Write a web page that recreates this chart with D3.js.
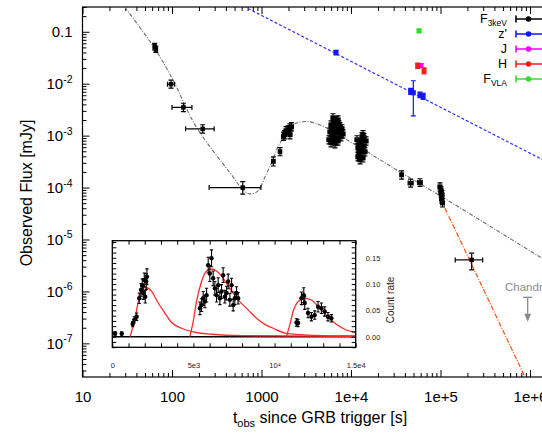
<!DOCTYPE html>
<html lang="en">
<head>
<meta charset="UTF-8">
<title>GRB light curve</title>
<script src="https://cdn.jsdelivr.net/npm/d3@7"></script>
<style>
  body { margin: 0; background: #fff; }
  svg { display: block; font-family: "Liberation Sans", Arial, Helvetica, sans-serif; }
</style>
</head>
<body>
<svg width="542" height="434"></svg>
<script>
// ---- values ----
// single X-ray points: [t, tLo, tHi, flux, fluxLo, fluxHi]  (s, mJy)
const xrtSingle = [
  [64, 62, 66, 0.052, 0.045, 0.060],
  [66, 64, 68, 0.046, 0.040, 0.053],
  [97.5, 89, 107, 0.0098, 0.0082, 0.0117],
  [134, 100, 167, 0.0035, 0.0029, 0.0042],
  [220, 142, 296, 0.00135, 0.00112, 0.00162],
  [617, 260, 985, 1.0e-4, 7.5e-5, 1.3e-4],
  [1355, 1300, 1410, 3.2e-4, 2.6e-4, 3.9e-4],
  [1610, 1550, 1670, 4.9e-4, 4.1e-4, 5.9e-4],
  [36800, 35300, 38300, 1.76e-4, 1.45e-4, 2.1e-4],
  [46400, 43500, 49500, 1.22e-4, 1.02e-4, 1.45e-4],
  [59000, 55500, 62500, 1.25e-4, 1.05e-4, 1.48e-4],
  [223000, 146000, 296000, 4.05e-6, 2.6e-6, 5.45e-6]
];
// dense X-ray clusters: [t, flux]
const xrtCluster = [
  [1807, 1.04e-3], [1879, 1.24e-3], [1977, 1.29e-3], [2080, 1.41e-3], [2163, 1.48e-3], [2080, 1.04e-3], [1760, 0.97e-3],
  [5675, 8.3e-4], [5821, 1.18e-3], [5981, 1.61e-3], [6138, 9.9e-4], [6295, 1.41e-3], [6457, 1.84e-3],
  [6622, 1.24e-3], [6792, 9.1e-4], [6982, 1.55e-3], [7161, 2.01e-3], [7345, 1.13e-3], [7534, 1.48e-3],
  [7727, 9.5e-4], [7925, 1.35e-3], [8147, 1.08e-3], [5981, 7.3e-4], [6622, 6.95e-4], [7161, 7.9e-4],
  [6295, 2.2e-3], [6792, 1.93e-3], [6138, 1.29e-3], [7345, 1.61e-3], [7727, 1.24e-3], [6457, 8.3e-4],
  [11670, 8.3e-4], [11970, 5.82e-4], [12270, 4.27e-4], [12620, 7.3e-4], [12940, 5.09e-4], [13270, 9.5e-4],
  [13610, 3.73e-4], [13960, 6.35e-4], [14320, 4.87e-4], [14720, 7.9e-4], [12620, 3.42e-4], [13610, 1.04e-3],
  [11970, 3.91e-4], [12940, 6.95e-4], [13960, 9.1e-4], [12270, 6.35e-4],
  [98700, 1.03e-4], [101400, 8.63e-5], [104000, 7.23e-5], [102700, 6.05e-5], [105400, 5.07e-5], [101400, 7.9e-5]
];
const clusterTimeErr = 1.05;
const clusterFluxErr = 1.2;

const zPoints = [
  [6800, 6600, 7000, 0.040, 0.036, 0.044],
  [46400, 45000, 47800, 0.0071, 0.0062, 0.0081],
  [49700, 48500, 51000, 0.0067, 0.0024, 0.0114],
  [59000, 57500, 60500, 0.0061, 0.0054, 0.0069],
  [64000, 62500, 65500, 0.0057, 0.0050, 0.0065]
];
const jPoints = [[60500, 59300, 61700, 0.0224, 0.0205, 0.0245]];
const hPoints = [
  [55600, 54500, 56700, 0.0221, 0.0197, 0.0248],
  [65500, 64200, 66800, 0.0177, 0.0155, 0.0202]
];
const vlaPoints = [[57600, 56500, 58700, 0.104, 0.097, 0.111]];

// model curves [t, flux]
const xrtModel = [
  [26.2, 0.395], [63, 0.0498], [108, 0.00995], [147, 0.00314], [206, 0.00113], [481, 1.61e-4],
  [621, 9.0e-5], [745, 7.57e-5], [915, 8.63e-5], [1094, 1.61e-4], [1310, 3.13e-4], [1528, 6.08e-4],
  [1927, 1.18e-3], [2367, 1.69e-3], [3222, 1.87e-3], [4504, 1.61e-3], [6295, 1.20e-3], [9750, 7.69e-4],
  [15100, 4.94e-4], [21100, 3.42e-4], [118300, 5.79e-5], [1.294e6, 4.62e-6], [2.8e6, 2.08e-6]
];
const zModel = [[500, 0.381], [3e6, 1.74e-4]];
const steepModel = [[1.014e5, 5.79e-5], [8.79e5, 2.25e-8]];
const chandraLimit = { t: 9.42e5, top: 7.7e-7, tip: 2.62e-7, labelT: 5.26e5, labelF: 1.22e-6 };

const xTicks = [10, 100, 1000, 1e4, 1e5, 1e6];
const xTickLabels = ["10", "100", "1000", "1e+4", "1e+5", "1e+6"];
const yTicks = [0.1, 1e-2, 1e-3, 1e-4, 1e-5, 1e-6, 1e-7];
const yTickBase = ["0.1", "10", "10", "10", "10", "10", "10"];
const yTickExp = ["", "-2", "-3", "-4", "-5", "-6", "-7"];

const legendNames = [["F", "3keV"], ["z'", ""], ["J", ""], ["H", ""], ["F", "VLA"]];
const legendColors = ["#000000", "#1515ff", "#ff00ff", "#ff1a1a", "#33dd33"];

// inset: [t, count rate, error]
const insetPoints = [
  [170, 0.006, 0.003], [580, 0.006, 0.003],
  [1255, 0.024, 0.005], [1355, 0.032, 0.006], [1500, 0.038, 0.007], [1660, 0.073, 0.010],
  [1765, 0.089, 0.012], [1845, 0.098, 0.012], [1905, 0.083, 0.012], [1970, 0.108, 0.013],
  [2030, 0.076, 0.012], [2090, 0.105, 0.015], [2135, 0.114, 0.015],
  [5400, 0.054, 0.012], [5500, 0.060, 0.012], [5600, 0.073, 0.013], [5705, 0.067, 0.012],
  [5810, 0.079, 0.013], [5910, 0.136, 0.015], [6010, 0.120, 0.015], [6115, 0.149, 0.016],
  [6215, 0.111, 0.014], [6320, 0.092, 0.013], [6425, 0.079, 0.013], [6525, 0.098, 0.014],
  [6630, 0.073, 0.012], [6730, 0.086, 0.013], [6830, 0.117, 0.014], [6935, 0.076, 0.012],
  [7040, 0.083, 0.013], [7140, 0.105, 0.014], [7245, 0.070, 0.012], [7350, 0.098, 0.013],
  [7450, 0.060, 0.011], [7550, 0.073, 0.012], [7655, 0.083, 0.012], [7755, 0.073, 0.011],
  [11350, 0.027, 0.007], [11450, 0.026, 0.007], [11655, 0.073, 0.012], [11800, 0.079, 0.014],
  [11860, 0.064, 0.012], [12060, 0.045, 0.009], [12270, 0.038, 0.008], [12475, 0.041, 0.008],
  [12680, 0.057, 0.010], [12885, 0.054, 0.010], [13090, 0.048, 0.009], [13290, 0.038, 0.008],
  [13500, 0.035, 0.007]
];
const pulse1 = [[1090, 0], [1400, 0.035], [1600, 0.066], [1810, 0.086], [2010, 0.094], [2425, 0.086],
  [2830, 0.064], [3240, 0.045], [3655, 0.027], [4270, 0.016], [5090, 0.0084], [6120, 0.0046],
  [7960, 0.0019], [15000, 0.0008]];
const pulse2 = [[4780, 0], [4985, 0.0285], [5190, 0.0665], [5500, 0.105], [5810, 0.125], [6075, 0.1287],
  [6425, 0.125], [6830, 0.111], [7245, 0.092], [7755, 0.070], [8370, 0.051], [8885, 0.035],
  [9400, 0.0235], [9910, 0.016], [10830, 0.0057], [12985, 0.0019], [15000, 0.0013]];
const pulse3 = [[10730, 0], [10935, 0.022], [11140, 0.0475], [11445, 0.0665], [11860, 0.073],
  [12270, 0.0698], [12780, 0.054], [13290, 0.038], [13810, 0.0235], [14425, 0.0127], [15000, 0.0076]];
const insetXTicks = [0, 5000, 10000, 15000];
const insetXLabels = ["0", "5e3", "10\u2074", "1.5e4"];
const insetYTicks = [0, 0.05, 0.10, 0.15];

// ---- layout ----
const plot = { left: 82.5, top: 7, bottom: 377 };
const decade = 89.5;
const x = d3.scaleLog().domain([10, 3e6]).range([plot.left, plot.left + decade * Math.log10(3e5)]);
const y = d3.scaleLog().domain([2.25e-8, 0.3]).range([plot.bottom, plot.top]);
const plotRight = x.range()[1];

const svg = d3.select("svg");
svg.append("defs").append("clipPath").attr("id", "clipMain")
  .append("rect").attr("x", plot.left).attr("y", plot.top)
  .attr("width", plotRight - plot.left).attr("height", plot.bottom - plot.top);

// axes (inward ticks on all sides)
const minorX = x.ticks().filter(v => !xTicks.includes(v));
const minorY = y.ticks().filter(v => !yTicks.some(t => Math.abs(t - v) / t < 1e-6));

function styleAxis(g) {
  g.select(".domain").remove();
  g.selectAll(".tick line").attr("stroke", "#000").attr("stroke-width", 1);
  g.attr("font-family", null).attr("font-size", 15);
}

svg.append("g").attr("transform", `translate(0,${plot.bottom})`)
  .call(d3.axisBottom(x).tickValues(minorX).tickSize(-4).tickFormat("")).call(styleAxis);
svg.append("g").attr("transform", `translate(0,${plot.bottom})`)
  .call(d3.axisBottom(x).tickValues(xTicks).tickSize(-7).tickPadding(14)
    .tickFormat((d, i) => xTickLabels[i])).call(styleAxis);
svg.append("g").attr("transform", `translate(0,${plot.top})`)
  .call(d3.axisTop(x).tickValues(minorX).tickSize(-4).tickFormat("")).call(styleAxis);
svg.append("g").attr("transform", `translate(0,${plot.top})`)
  .call(d3.axisTop(x).tickValues(xTicks).tickSize(-7).tickFormat("")).call(styleAxis);
svg.append("g").attr("transform", `translate(${plot.left},0)`)
  .call(d3.axisLeft(y).tickValues(minorY).tickSize(-4).tickFormat("")).call(styleAxis);
const yAxisG = svg.append("g").attr("transform", `translate(${plot.left},0)`)
  .call(d3.axisLeft(y).tickValues(yTicks).tickSize(-7).tickPadding(10).tickFormat(""))
  .call(styleAxis);
yAxisG.selectAll(".tick text").each(function(d, i) {
  const t = d3.select(this);
  t.append("tspan").text(yTickBase[i]);
  if (yTickExp[i]) t.append("tspan").attr("font-size", 10.5).attr("dy", "-0.6em").text(yTickExp[i]);
});

svg.append("rect").attr("x", plot.left).attr("y", plot.top)
  .attr("width", plotRight - plot.left).attr("height", plot.bottom - plot.top)
  .attr("fill", "none").attr("stroke", "#000").attr("stroke-width", 1.2);

// axis titles
const xTitle = svg.append("text").attr("x", 320).attr("y", 423).attr("text-anchor", "middle")
  .attr("font-size", 16);
xTitle.append("tspan").text("t");
xTitle.append("tspan").attr("font-size", 11).attr("dy", "0.35em").text("obs");
xTitle.append("tspan").attr("dy", "-0.25em").text(" since GRB trigger [s]");

svg.append("text").attr("transform", "translate(32,193) rotate(-90)")
  .attr("text-anchor", "middle").attr("font-size", 16).text("Observed Flux [mJy]");

// ---- main plot content ----
const main = svg.append("g").attr("clip-path", "url(#clipMain)");
const line = d3.line().x(d => x(d[0])).y(d => y(d[1]));

main.append("path").datum(xrtModel).attr("d", line.curve(d3.curveCatmullRom.alpha(0.5)))
  .attr("fill", "none").attr("stroke", "#6e6e6e").attr("stroke-width", 1.1)
  .attr("stroke-dasharray", "4,1.5,1,1.5");
main.append("path").datum(zModel).attr("d", d3.line().x(d => x(d[0])).y(d => y(d[1])))
  .attr("fill", "none").attr("stroke", "#2f2fff").attr("stroke-width", 1.2)
  .attr("stroke-dasharray", "3,2");
main.append("path").datum(steepModel).attr("d", d3.line().x(d => x(d[0])).y(d => y(d[1])))
  .attr("fill", "none").attr("stroke", "#ff4d10").attr("stroke-width", 1.2)
  .attr("stroke-dasharray", "5,1.5,1,1.5");

function drawPoints(rows, color, size) {
  const g = main.append("g").attr("stroke", color).attr("fill", color).attr("stroke-width", 1.2);
  const p = g.selectAll("g").data(rows).join("g");
  const cap = 2.5;
  p.append("line").attr("x1", d => x(d[1])).attr("x2", d => x(d[2]))
    .attr("y1", d => y(d[3])).attr("y2", d => y(d[3]));
  p.append("line").attr("x1", d => x(d[1])).attr("x2", d => x(d[1]))
    .attr("y1", d => y(d[3]) - cap).attr("y2", d => y(d[3]) + cap);
  p.append("line").attr("x1", d => x(d[2])).attr("x2", d => x(d[2]))
    .attr("y1", d => y(d[3]) - cap).attr("y2", d => y(d[3]) + cap);
  p.append("line").attr("x1", d => x(d[0])).attr("x2", d => x(d[0]))
    .attr("y1", d => y(d[4])).attr("y2", d => y(d[5]));
  p.append("line").attr("x1", d => x(d[0]) - cap).attr("x2", d => x(d[0]) + cap)
    .attr("y1", d => y(d[4])).attr("y2", d => y(d[4]));
  p.append("line").attr("x1", d => x(d[0]) - cap).attr("x2", d => x(d[0]) + cap)
    .attr("y1", d => y(d[5])).attr("y2", d => y(d[5]));
  p.append("rect").attr("x", d => x(d[0]) - size / 2).attr("y", d => y(d[3]) - size / 2)
    .attr("width", size).attr("height", size).attr("stroke", "none");
}

const clusterRows = xrtCluster.map(([t, f]) =>
  [t, t / clusterTimeErr, t * clusterTimeErr, f, f / clusterFluxErr, f * clusterFluxErr]);
drawPoints(xrtSingle, "#000", 4.5);
drawPoints(clusterRows, "#000", 4.5);
drawPoints(zPoints, "#1515ff", 5);
drawPoints(vlaPoints, "#33dd33", 5);
drawPoints(jPoints, "#ff00ff", 5);
drawPoints(hPoints, "#ff1a1a", 5);

// Chandra upper limit
const chx = x(chandraLimit.t), chTop = y(chandraLimit.top), chTip = y(chandraLimit.tip);
const ch = svg.append("g").attr("stroke", "#8a8a8a").attr("fill", "#8a8a8a").attr("stroke-width", 1.3);
ch.append("line").attr("x1", chx - 4.5).attr("x2", chx + 4.5).attr("y1", chTop).attr("y2", chTop);
ch.append("line").attr("x1", chx).attr("x2", chx).attr("y1", chTop).attr("y2", chTip - 6);
ch.append("path").attr("stroke", "none")
  .attr("d", `M${chx - 3.5},${chTip - 8} L${chx + 3.5},${chTip - 8} L${chx},${chTip} Z`);
svg.append("text").attr("x", x(chandraLimit.labelT)).attr("y", y(chandraLimit.labelF))
  .attr("dy", "0.35em").attr("font-size", 11.5).attr("fill", "#8a8a8a").text("Chandra");

// legend
const leg = svg.append("g");
legendNames.forEach((n, i) => {
  const ly = 19 + 15 * i;
  const t = leg.append("text").attr("x", 507).attr("y", ly).attr("dy", "0.35em")
    .attr("text-anchor", "end").attr("font-size", 12.5);
  t.append("tspan").text(n[0]);
  if (n[1]) t.append("tspan").attr("font-size", 8.5).attr("dy", "0.35em").text(n[1]);
  leg.append("line").attr("x1", 516).attr("x2", 560).attr("y1", ly).attr("y2", ly)
    .attr("stroke", legendColors[i]).attr("stroke-width", 1.6);
  leg.append("line").attr("x1", 516).attr("x2", 516).attr("y1", ly - 3.5).attr("y2", ly + 3.5)
    .attr("stroke", legendColors[i]).attr("stroke-width", 1.6);
  leg.append("circle").attr("cx", 528.5).attr("cy", ly).attr("r", 2.8).attr("fill", legendColors[i]);
});

// ---- inset ----
const inset = { left: 112.3, right: 355.7, top: 240.7, bottom: 347.3 };
const ix = d3.scaleLinear().domain([0, 15000]).range([inset.left, inset.right]);
const iy = d3.scaleLinear().domain([-0.0202, 0.1825]).range([inset.bottom, inset.top]);

svg.append("clipPath").attr("id", "clipInset").append("rect")
  .attr("x", inset.left).attr("y", inset.top)
  .attr("width", inset.right - inset.left).attr("height", inset.bottom - inset.top);
svg.append("rect").attr("x", inset.left).attr("y", inset.top)
  .attr("width", inset.right - inset.left).attr("height", inset.bottom - inset.top).attr("fill", "#fff");

const ig = svg.append("g").attr("clip-path", "url(#clipInset)");
ig.append("line").attr("x1", ix(0)).attr("x2", ix(15000)).attr("y1", iy(0)).attr("y2", iy(0))
  .attr("stroke", "#000").attr("stroke-width", 1.5);
const iline = d3.line().x(d => ix(d[0])).y(d => iy(d[1])).curve(d3.curveMonotoneX);
[pulse1, pulse2, pulse3].forEach(p => {
  ig.append("path").datum(p).attr("d", iline).attr("fill", "none")
    .attr("stroke", "#ff2a2a").attr("stroke-width", 1.3);
});
const ip = ig.selectAll("g.pt").data(insetPoints).join("g").attr("class", "pt")
  .attr("stroke", "#000").attr("fill", "#000").attr("stroke-width", 1.1);
ip.append("line").attr("x1", d => ix(d[0])).attr("x2", d => ix(d[0]))
  .attr("y1", d => iy(d[1] - d[2])).attr("y2", d => iy(d[1] + d[2]));
ip.append("line").attr("x1", d => ix(d[0]) - 1.6).attr("x2", d => ix(d[0]) + 1.6)
  .attr("y1", d => iy(d[1] + d[2])).attr("y2", d => iy(d[1] + d[2]));
ip.append("line").attr("x1", d => ix(d[0]) - 1.6).attr("x2", d => ix(d[0]) + 1.6)
  .attr("y1", d => iy(d[1] - d[2])).attr("y2", d => iy(d[1] - d[2]));
ip.append("line").attr("x1", d => ix(d[0] - 50)).attr("x2", d => ix(d[0] + 50))
  .attr("y1", d => iy(d[1])).attr("y2", d => iy(d[1]));
ip.append("circle").attr("cx", d => ix(d[0])).attr("cy", d => iy(d[1])).attr("r", 2.2).attr("stroke", "none");

function styleInset(g) {
  g.select(".domain").remove();
  g.selectAll(".tick line").attr("stroke", "#000");
  g.selectAll(".tick text").attr("fill", "#2a1a1a");
  g.attr("font-family", null).attr("font-size", 7.5);
}
const ixMinor = ix.ticks(15);
const iyMinor = d3.range(-0.02, 0.181, 0.01);
svg.append("g").attr("transform", `translate(0,${inset.bottom})`)
  .call(d3.axisBottom(ix).tickValues(ixMinor).tickSize(-4).tickFormat("")).call(styleInset);
svg.append("g").attr("transform", `translate(0,${inset.top})`)
  .call(d3.axisTop(ix).tickValues(ixMinor).tickSize(-4).tickFormat("")).call(styleInset);
svg.append("g").attr("transform", `translate(${inset.left},0)`)
  .call(d3.axisLeft(iy).tickValues(iyMinor).tickSize(-4).tickFormat("")).call(styleInset);
svg.append("g").attr("transform", `translate(${inset.right},0)`)
  .call(d3.axisRight(iy).tickValues(iyMinor).tickSize(-4).tickFormat("")).call(styleInset);
svg.append("g").attr("transform", `translate(${inset.right},0)`)
  .call(d3.axisRight(iy).tickValues(insetYTicks).tickSize(0).tickPadding(10)
    .tickFormat(d3.format(".2f"))).call(styleInset);
svg.append("g").attr("transform", `translate(0,${inset.bottom})`)
  .call(d3.axisBottom(ix).tickValues(insetXTicks).tickSize(0).tickPadding(15)
    .tickFormat((d, i) => insetXLabels[i])).call(styleInset);

svg.append("rect").attr("x", inset.left).attr("y", inset.top)
  .attr("width", inset.right - inset.left).attr("height", inset.bottom - inset.top)
  .attr("fill", "none").attr("stroke", "#000").attr("stroke-width", 1.3);
svg.append("text").attr("transform", "translate(393.5,300) rotate(-90)")
  .attr("text-anchor", "middle").attr("font-size", 10).attr("fill", "#2a1a1a").text("Count rate");
</script>
</body>
</html>
